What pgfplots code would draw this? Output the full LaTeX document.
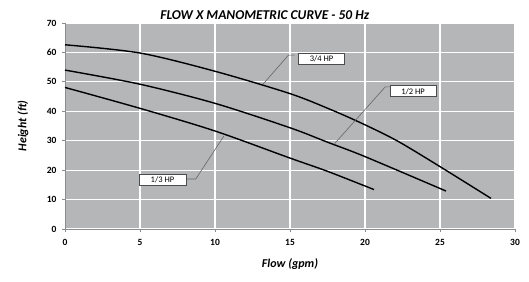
\documentclass[border=0pt]{standalone}
\usepackage{pgfplots}
\pgfplotsset{compat=1.18}
\usepackage{fontspec}
\setmainfont{Carlito}
\definecolor{plotbg}{RGB}{180,182,183}
\definecolor{axgray}{RGB}{140,140,140}
\begin{document}
\begin{tikzpicture}[x=1pt,y=1pt]
\path[use as bounding box] (0,0) rectangle (529,281);
\begin{axis}[
  at={(65pt,52pt)}, anchor=south west,
  scale only axis, width=450pt, height=206pt,
  xmin=0, xmax=30, ymin=0, ymax=70,
  xtick={0,5,...,30}, ytick={0,10,...,70},
  axis background/.style={fill=plotbg},
  axis x line*=bottom, axis y line*=left,
  axis line style={axgray, line width=0.8pt},
  every axis plot/.append style={line width=1.4pt},
  tick style={axgray, line width=0.8pt},
  tick align=outside, major tick length=3pt,
  grid=major, major grid style={white, line width=1.2pt},
  /pgf/number format/assume math mode=true,
  ticklabel style={font=\fontsize{9.5}{10}\selectfont\bfseries},
  xticklabel style={yshift=-4pt},
  yticklabel style={xshift=-2pt},
  xlabel={\fontsize{12}{13}\selectfont\bfseries\itshape Flow (gpm)},
  ylabel={\fontsize{12}{13}\selectfont\bfseries\itshape Height (ft)},
  xlabel style={at={(axis description cs:0.5,0)}, anchor=north, yshift=-26pt},
  ylabel style={at={(axis description cs:0,0.5)}, anchor=south, yshift=33pt},
  title={\fontsize{13.5}{14}\selectfont\bfseries\itshape FLOW X MANOMETRIC CURVE - 50 Hz},
  title style={at={(axis description cs:0.444,1)}, anchor=south, yshift=-6pt},
  clip=false,
]
% 3/4 HP
\addplot[black, smooth] coordinates {(0,62.6) (5,59.8) (10,53.6) (15,46.0) (17.8,40.4) (20,35.4) (22.2,29.8) (25,21.2) (28.4,10.4)};
% 1/2 HP
\addplot[black, smooth] coordinates {(0,54.0) (5,49.2) (10,42.7) (15,34.4) (17.5,29.5) (20,24.6) (25.4,12.9)};
% 1/3 HP
\addplot[black, smooth] coordinates {(0,48.1) (5,41.0) (10,33.3) (15,24.1) (17.5,19.6) (20.6,13.4)};
% leader lines
\draw[black!60, line width=0.6pt] (axis cs:13.2,49.2) -- (axis cs:14.9,59.1) -- (axis cs:15.3,59.1);
\draw[black!60, line width=0.6pt] (axis cs:17.97,29.0) -- (axis cs:21.35,48.3) -- (axis cs:21.75,48.3);
\draw[black!60, line width=0.6pt] (axis cs:10.58,31.5) -- (axis cs:8.72,17.0) -- (axis cs:8.1,17.0);
% label boxes
\node[draw=black!70, fill=white, line width=0.6pt, inner sep=1.5pt, minimum width=46pt, minimum height=11pt, font=\fontsize{8.5}{9}\selectfont] at (axis cs:17.1,57.8) {3/4 HP};
\node[draw=black!70, fill=white, line width=0.6pt, inner sep=1.5pt, minimum width=46pt, minimum height=11pt, font=\fontsize{8.5}{9}\selectfont] at (axis cs:23.2,46.8) {1/2 HP};
\node[draw=black!70, fill=white, line width=0.6pt, inner sep=1.5pt, minimum width=47pt, minimum height=11.5pt, font=\fontsize{8.5}{9}\selectfont] at (axis cs:6.5,16.8) {1/3 HP};
\end{axis}
\end{tikzpicture}
\end{document}
